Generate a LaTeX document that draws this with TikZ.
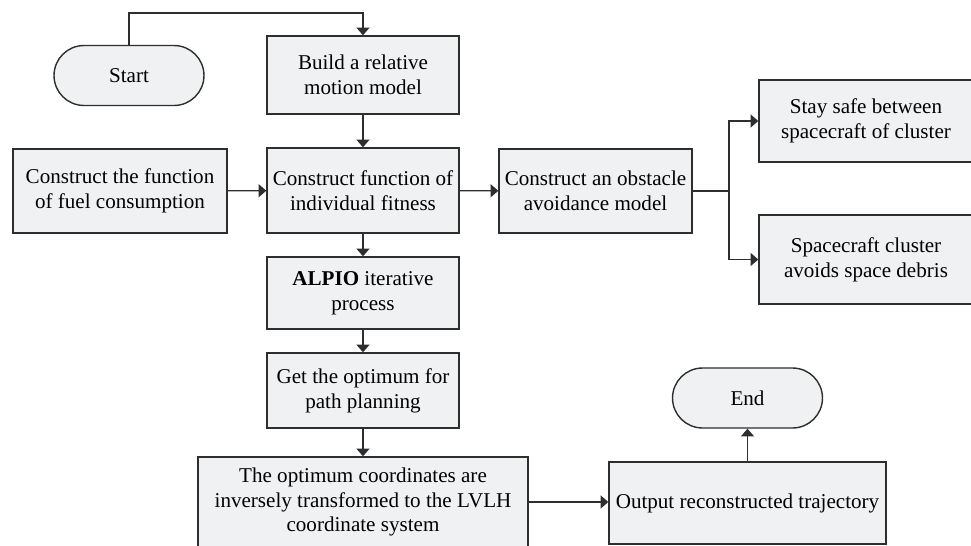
\documentclass[tikz,border=0pt]{standalone}
\usepackage{fontspec}
\setmainfont{Liberation Serif}
\usepackage{tikz}
\usetikzlibrary{arrows.meta,calc}
\definecolor{boxfill}{HTML}{F0F1F3}
\definecolor{edge}{HTML}{2E2E2E}

\begin{document}
\begin{tikzpicture}[x=0.02cm, y=-0.02cm,
		font=\fontsize{12}{14.2}\selectfont,
		box/.style={draw=edge, line width=0.8pt, fill=boxfill, align=center, inner sep=0pt},
		term/.style={box, rounded corners=0.6cm, minimum width=3cm, minimum height=1.2cm},
		link/.style={draw=edge, line width=0.8pt, -{Triangle[length=4.4pt,width=7.4pt]}}]
		\useasboundingbox (0,0) rectangle (971,545);
		
		\node[term] (0) at (129, 75.5) {Start};
		\node[box, minimum width=3.84cm, minimum height=1.56cm] (1) at (363, 75) {Build a relative\\motion model};
		
		\node[box, minimum width=4.28cm, minimum height=1.68cm] (2) at (120, 191) {Construct the function\\of fuel consumption};
		\node[box, minimum width=3.84cm, minimum height=1.70cm] (3) at (363, 190.5) {Construct function of\\individual fitness};
		\node[box, minimum width=3.86cm, minimum height=1.68cm] (4) at (595.5, 191) {Construct an obstacle\\avoidance model};
		
		\node[box, minimum width=4.28cm, minimum height=1.64cm] (5) at (866, 121) {Stay safe between\\spacecraft of cluster};
		\node[box, minimum width=4.28cm, minimum height=1.78cm] (6) at (866, 259.5) {Spacecraft cluster\\avoids space debris};
		
		\node[box, minimum width=3.84cm, minimum height=1.44cm] (7) at (363, 293) {\textbf{ALPIO} iterative\\process};
		\node[box, minimum width=3.84cm, minimum height=1.50cm] (8) at (363, 390.5) {Get the optimum for\\path planning};
		\node[box, minimum width=6.6cm, minimum height=1.8cm] (9) at (363, 502) {The optimum coordinates are\\inversely transformed to the LVLH\\coordinate system};
		
		\node[box, minimum width=5.54cm, minimum height=1.64cm] (10) at (747.5, 503) {Output reconstructed trajectory};
		\node[term] (11) at (747.5, 398) {End};
		
		\coordinate (c0) at (363, 13);
		\coordinate (c1) at (729, 191);
		
		\draw[link] (0.north) |- (c0) -- (1.north);
		\draw[link] (1) -- (3);
		\draw[link] (2) -- (3);
		\draw[link] (3) -- (4);
		\draw[link, -] (4) -- (c1);
		\draw[link] (c1) |- (5.west);
		\draw[link] (c1) |- (6.west);
		\draw[link] (3) -- (7);
		\draw[link] (7) -- (8);
		\draw[link] (8) -- (9);
		\draw[link] (9.east) -- (9.east -| 10.west);
		\draw[link] (10) -- (11);
	\end{tikzpicture}
\end{document}
